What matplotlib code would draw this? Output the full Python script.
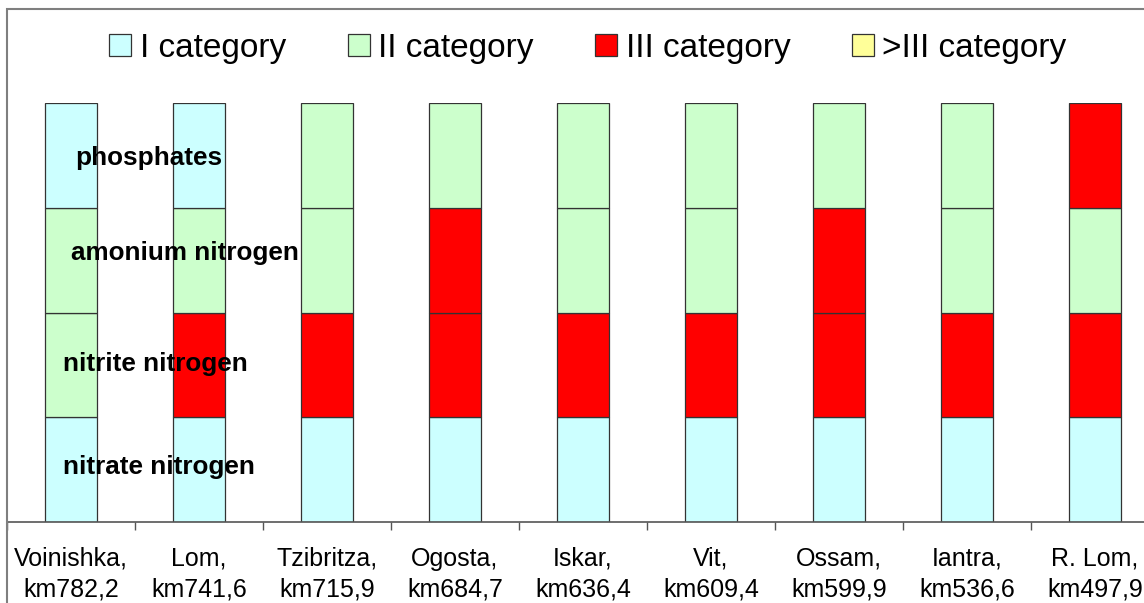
import numpy as np
import matplotlib.pyplot as plt
from matplotlib.patches import Patch, Rectangle

plt.rcParams['font.family'] = ['Liberation Sans', 'DejaVu Sans']

# Data: water quality category (1..4) for each parameter at each station
stations = ['Voinishka,\nkm782,2', 'Lom,\nkm741,6', 'Tzibritza,\nkm715,9',
            'Ogosta,\nkm684,7', 'Iskar,\nkm636,4', 'Vit,\nkm609,4',
            'Ossam,\nkm599,9', 'Iantra,\nkm536,6', 'R. Lom,\nkm497,9']
parameters = ['nitrate nitrogen', 'nitrite nitrogen', 'amonium nitrogen', 'phosphates']
nitrate = [1, 1, 1, 1, 1, 1, 1, 1, 1]
nitrite = [2, 3, 3, 3, 3, 3, 3, 3, 3]
amonium = [2, 2, 2, 3, 2, 2, 3, 2, 2]
phosphates = [1, 1, 2, 2, 2, 2, 2, 2, 3]
category_names = ['I category', 'II category', 'III category', '>III category']
category_colors = ['#CCFFFF', '#CCFFCC', '#FF0000', '#FFFF99']

W, H = 1144, 603
fig = plt.figure(figsize=(W / 100, H / 100), dpi=100)

# chart-area border (cropped on the right and bottom)
fig.patches.append(Rectangle((7 / W, -0.1), 1.2, 1 - 9 / H + 0.1, transform=fig.transFigure,
                             fill=False, edgecolor='#7f7f7f', linewidth=1.5))

ax = fig.add_axes([7 / W, (H - 521.7) / H, 1152 / W, (521.7 - 103.3) / H])
ax.patch.set_alpha(0)

x = np.arange(len(stations))
for level, vals in enumerate([nitrate, nitrite, amonium, phosphates]):
    colors = [category_colors[v - 1] for v in vals]
    ax.bar(x, 1, bottom=level, width=0.41, color=colors, edgecolor='#333333', linewidth=0.9)

ax.set_xlim(-0.5, len(stations) - 0.5)
ax.set_ylim(0, 4)
ax.set_yticks([])
for s in ['top', 'right', 'left']:
    ax.spines[s].set_visible(False)
ax.spines['bottom'].set_color('#555555')
ax.spines['bottom'].set_linewidth(1.2)

ax.set_xticks(x)
ax.set_xticklabels(stations, fontsize=18, linespacing=1.35)
ax.tick_params(axis='x', which='major', length=0, pad=18)
ax.set_xticks(np.arange(len(stations)) - 0.5, minor=True)
ax.tick_params(axis='x', which='minor', length=6, width=1, color='#555555')

# parameter labels across the first bars
label_pos = [(-0.0625, 0.46), (-0.0625, 1.445), (0.0, 2.50), (0.031, 3.41)]
for name, (lx, ly) in zip(parameters, label_pos):
    ax.text(lx, ly, name, fontsize=18.8, fontweight='bold', ha='left', va='baseline')

handles = [Patch(facecolor=c, edgecolor='#333333', linewidth=0.9) for c in category_colors]
fig.legend(handles, category_names, loc='center', bbox_to_anchor=(588 / W, 1 - 48 / H),
           ncol=4, frameon=False, fontsize=24, handlelength=0.66, handleheight=0.66,
           handletextpad=0.25, columnspacing=1.85)

fig.savefig('out.png', dpi=100)
